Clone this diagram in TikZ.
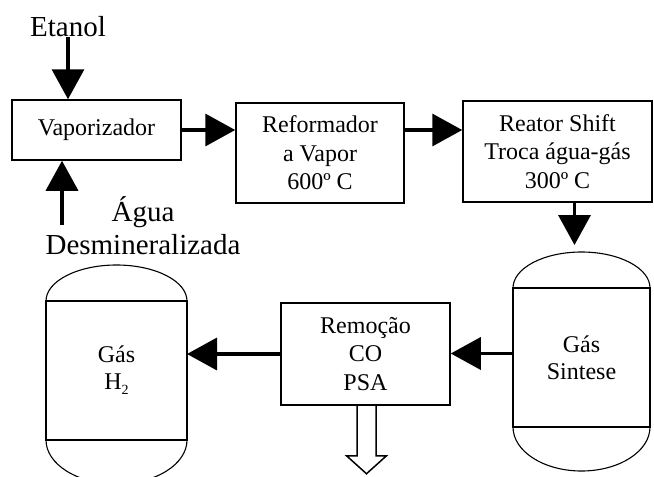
\documentclass[tikz,border=0pt]{standalone}
\usepackage{fontspec}
\setmainfont{Liberation Serif}
\usetikzlibrary{arrows.meta}

\begin{document}
\begin{tikzpicture}[x=1pt, y=1pt,
    box/.style={draw, line width=1.5pt, align=center, inner sep=0pt, font=\fontsize{24}{28.5}\selectfont},
    vessel/.style={draw, line width=1.5pt, outer sep=0pt, align=center, inner sep=0pt, font=\fontsize{24}{27}\selectfont},
    dome/.style={line width=1.1pt},
    flow/.style={line width=3.5pt, -{Triangle[length=30pt, width=32pt]}},
    label/.style={align=center, inner sep=0pt, font=\fontsize{29}{33}\selectfont}]
    \useasboundingbox (0,0) rectangle (654,-477);

    \node[box, minimum width=169, minimum height=60] (vap) at (96.5,-130) {Vaporizador};
    \node[box, minimum width=168, minimum height=100] (ref) at (320,-153) {Reformador\\a Vapor\\600º C};
    \node[box, minimum width=189, minimum height=101] (shift) at (557.5,-151.5) {Reator Shift\\Troca água-gás\\300º C};
    \node[box, minimum width=169, minimum height=102] (rem) at (365.5,-354) {Remoção\\CO\\PSA};

    \node[vessel, minimum width=137, minimum height=139] (sint) at (581.5,-357.5) {Gás\\Sintese};
    \node[vessel, minimum width=141, minimum height=139] (htwo) at (116.5,-370.5) {Gás\\H\raisebox{-0.45ex}{\fontsize{14}{14}\selectfont 2}};
    \draw[dome] (sint.north west) arc[start angle=180, end angle=0, x radius=68.5, y radius=36];
    \draw[dome] (sint.south west) arc[start angle=180, end angle=360, x radius=68.5, y radius=44];
    \draw[dome] (htwo.north west) arc[start angle=180, end angle=0, x radius=70.5, y radius=36];
    \draw[dome] (htwo.south west) arc[start angle=180, end angle=360, x radius=70.5, y radius=44];

    \node[label] (etanol) at (68,-27) {Etanol};
    \node[label] (agua) at (143,-226) {Água\\Desmineralizada};

    \coordinate (aguain) at (62,-225);
    \coordinate (sinttop) at ([xshift=-7pt, yshift=43pt]sint.north);
    \coordinate (sintout) at ([yshift=4pt]sint.west);

    \draw[flow] (etanol.south) -- (etanol.south |- vap.north);
    \draw[flow] (aguain) -- (aguain |- vap.south);
    \draw[flow] (vap.east) -- (vap.east -| ref.west);
    \draw[flow] (vap.east -| ref.east) -- (vap.east -| shift.west);
    \draw[flow] (shift.south -| sinttop) -- (sinttop);
    \draw[flow] (sintout) -- (sintout -| rem.east);
    \draw[flow] (rem.west) -- (rem.west -| htwo.east);
    \draw[line width=1.5pt, line join=miter] ([xshift=-8.5pt]rem.south) -- ++(0,-50) -- ++(-10.5,0) -- ++(20,-18) -- ++(20,18) -- ++(-10.5,0) -- ++(0,50);
\end{tikzpicture}
\end{document}
